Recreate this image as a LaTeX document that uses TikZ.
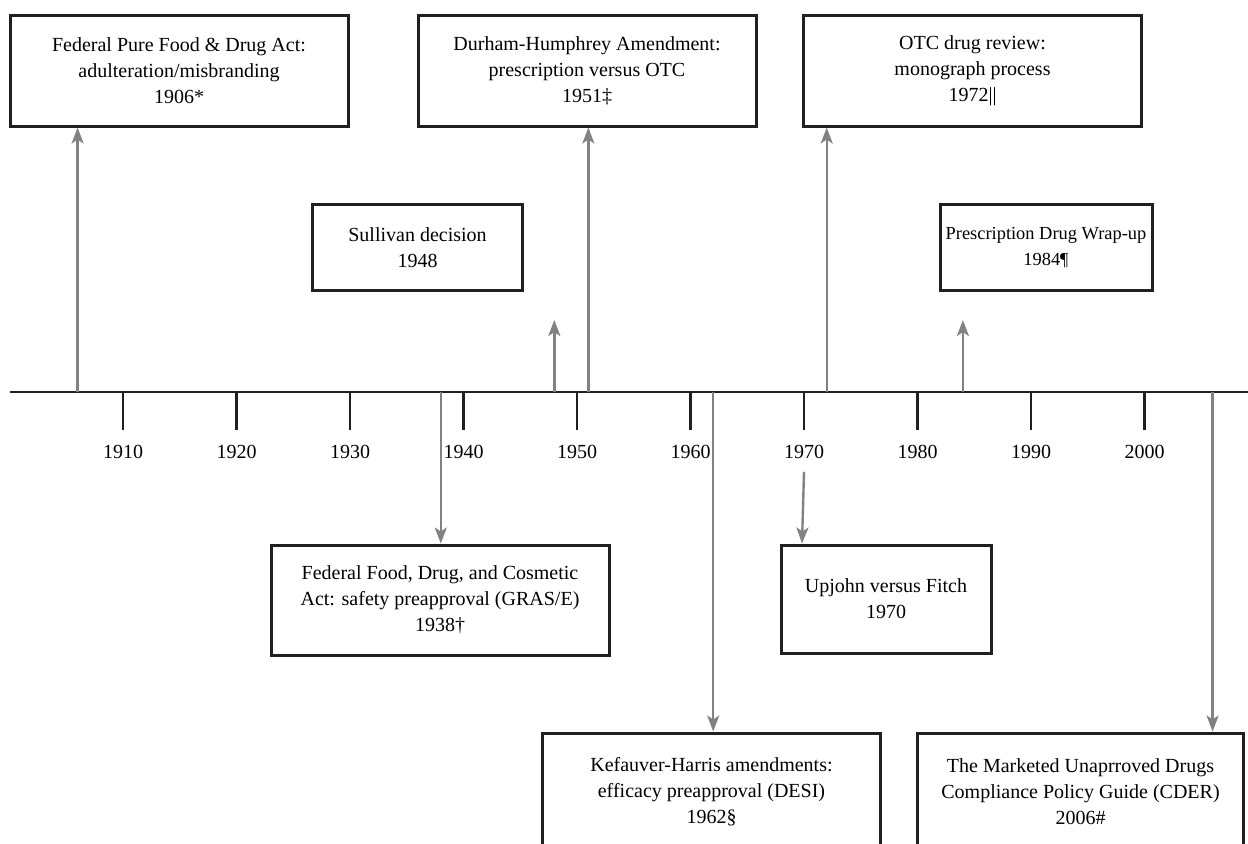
\documentclass[tikz,border=0pt]{standalone}
\usepackage{fontspec}
\setmainfont{Liberation Serif}
\usetikzlibrary{arrows.meta}
\definecolor{lawgray}{RGB}{130,130,134}
\definecolor{lawblack}{RGB}{35,31,32}
\tikzset{
  event/.style = {draw=lawblack, line width=1.5pt, align=center, inner sep=0pt,
    font=\fontsize{10}{13}\selectfont},% boite d'evenement
  widebox/.style = {event, minimum width=169pt, minimum height=55.5pt},% grande boite
  smallbox/.style = {event, minimum width=105pt, minimum height=43pt},% petite boite
  cutbox/.style = {event, minimum width=169pt, minimum height=59pt},% boite coupee en bas
  pointer/.style = {draw=lawgray, line width=1.2pt, -{Stealth[length=8pt,width=6pt,inset=2pt]}},
  yrtick/.style = {draw=lawblack, line width=1.25pt},
  yrlabel/.style = {font=\fontsize{10}{12}\selectfont}
}

\begin{document}
\begin{tikzpicture}[x=0.5pt, y=-0.5pt]
  \clip (0,0) rectangle (1248,843);
  % axe du temps
  \coordinate (start) at (10,392);
  \coordinate (stop) at (1248,392);
  \draw[yrtick] (start) -- (stop);
  \foreach \y in {1910,1920,...,2000} {
    \coordinate (t\y) at ({123+(\y-1910)*11.35},392);
    \draw[yrtick] (t\y) -- ++(0,38);
    \node[yrlabel] (l\y) at ({123+(\y-1910)*11.35},452) {\y};
  }
  \foreach \y in {1906,1938,1948,1951,1962,1972,1984,2006}
    \coordinate (a\y) at ({123+(\y-1910)*11.35},392);

  % au-dessus
  \node [widebox] (f1906) at (179,70.5) {Federal Pure Food \& Drug Act:\\adulteration/misbranding\\1906*};
  \node [widebox] (d1951) at (587,70.5) {Durham-Humphrey Amendment:\\prescription versus OTC\\1951‡};
  \node [widebox] (o1972) at (972.5,70.5) {OTC drug review:\\monograph process\\1972||};
  \node [smallbox] (s1948) at (417.5,247.5) {Sullivan decision\\1948};
  \node [smallbox, minimum width=106pt, font=\fontsize{9.2}{13}\selectfont] (p1984) at (1046,247.5) {Prescription Drug Wrap-up\\1984¶};

  % au-dessous (coupees par le bord)
  \node [widebox, minimum height=55pt] (f1938) at (440,600) {Federal Food, Drug, and Cosmetic\\Act: safety preapproval (GRAS/E)\\1938†};
  \node [smallbox, minimum height=54pt] (u1970) at (886,599) {Upjohn versus Fitch\\1970};
  \node [cutbox] (k1962) at (711.5,792) {Kefauver-Harris amendments:\\efficacy preapproval (DESI)\\1962§};
  \node [cutbox, minimum width=163pt] (c2006) at (1080.5,792) {The Marketed Unaprroved Drugs\\Compliance Policy Guide (CDER)\\2006\#};

  \draw[pointer] (a1906) -- (a1906 |- f1906.south);
  \draw[pointer] (a1948) -- ++(0,-72);
  \draw[pointer] (a1951) -- (a1951 |- d1951.south);
  \draw[pointer] (a1972) -- (a1972 |- o1972.south);
  \draw[pointer] (a1984) -- ++(0,-72);
  \draw[pointer] (a1938) -- (a1938 |- f1938.north);
  \draw[pointer] (a1962) -- (a1962 |- k1962.north);
  \draw[pointer] ([yshift=-3pt]l1970.south) -- ([xshift=-1pt]l1970.south |- u1970.north);
  \draw[pointer] (a2006) -- (a2006 |- c2006.north);
\end{tikzpicture}
\end{document}
